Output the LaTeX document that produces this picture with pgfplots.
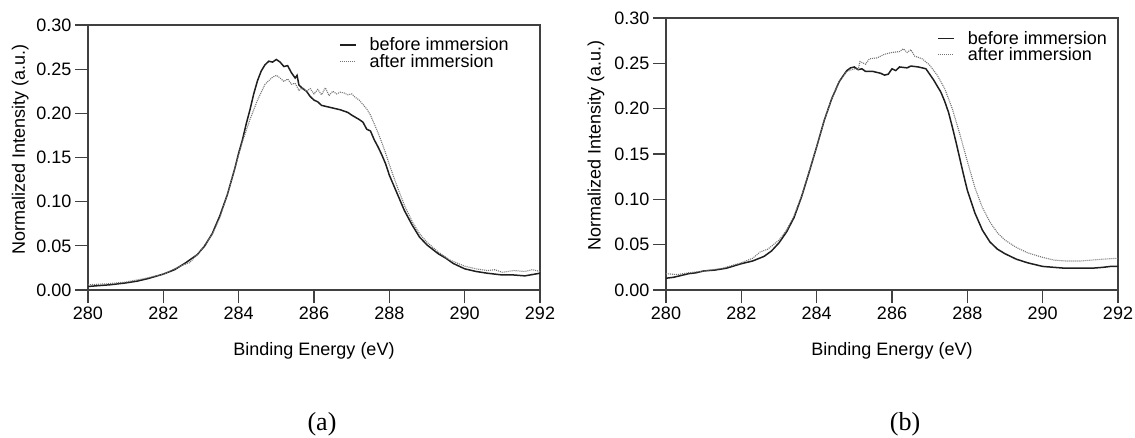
\documentclass[border=0pt]{standalone}
\usepackage{fontspec}
\setmainfont{Liberation Sans}
\newfontfamily\seriffont{Liberation Serif}
\usepackage{pgfplots}
\pgfplotsset{compat=1.18}
\definecolor{axcol}{gray}{0.25}
\pgfplotsset{
  myax/.style={
    scale only axis,
    xmin=280, xmax=292, ymin=0, ymax=0.30,
    xtick={280,282,284,286,288,290,292},
    ytick={0,0.05,0.10,0.15,0.20,0.25,0.30},
    /pgf/number format/assume math mode=true,
    yticklabel style={/pgf/number format/.cd, fixed, fixed zerofill, precision=2},
    xticklabel style={/pgf/number format/.cd, 1000 sep={}},
    scaled y ticks=false,
    tick align=outside,
    major tick length=13pt,
    xtick pos=bottom, ytick pos=left,
    axis line style={line width=1.1pt, color=axcol},
    tick style={line width=1.1pt, color=axcol},
    tick label style={font=\fontsize{18}{21}\selectfont},
    xlabel={Binding Energy (eV)},
    ylabel={Normalized Intensity (a.u.)},
    every axis x label/.style={at={(axis description cs:0.5,0)}, anchor=center, yshift=-61pt, font=\fontsize{18}{21}\selectfont},
    legend style={draw=none, fill=none, font=\fontsize{18}{21}\selectfont, inner sep=0pt, row sep=-2pt, cells={anchor=west}},
    legend image code/.code={\draw[#1] (0pt,0pt) -- (16pt,0pt); \path (27pt,0pt);},
    before/.style={line width=1.5pt, color=black!88},
    after/.style={line width=1.1pt, color=black!55, dash pattern=on 1pt off 1pt},
  }
}
\begin{document}
\begin{tikzpicture}[x=1pt,y=1pt]
\path[use as bounding box] (0,0) rectangle (1135,437);
\begin{axis}[myax, at={(88pt,147pt)}, anchor=south west, width=452pt, height=265pt,
  every axis y label/.style={at={(axis description cs:-0.150,0.532)}, rotate=90, anchor=center, font=\fontsize{18}{21}\selectfont},
  legend style={at={(axis description cs:0.555,0.96)}, anchor=north west}]
\addplot[before] coordinates {
(280.0,0.004) (280.3,0.005) (280.6,0.006) (281.0,0.008) (281.3,0.010) (281.6,0.013)
(282.0,0.018) (282.3,0.023) (282.6,0.031) (282.7,0.034) (282.9,0.040) (283.1,0.050)
(283.3,0.064) (283.5,0.084) (283.7,0.108) (283.9,0.138) (284.0,0.155) (284.1,0.170)
(284.2,0.188) (284.3,0.204) (284.4,0.222) (284.5,0.237) (284.6,0.248) (284.7,0.255)
(284.8,0.259) (284.9,0.258) (285.0,0.261) (285.1,0.258) (285.2,0.253) (285.3,0.254)
(285.4,0.246) (285.5,0.240) (285.55,0.243) (285.6,0.232) (285.7,0.228) (285.8,0.225)
(285.9,0.219) (286.0,0.215) (286.1,0.213) (286.2,0.209) (286.3,0.208) (286.5,0.206)
(286.7,0.204) (286.9,0.201) (287.0,0.198) (287.2,0.193) (287.3,0.190) (287.4,0.182)
(287.5,0.180) (287.6,0.170) (287.7,0.162) (287.8,0.153) (287.9,0.143) (288.0,0.130)
(288.2,0.110) (288.4,0.090) (288.6,0.074) (288.8,0.060) (289.0,0.051) (289.3,0.041)
(289.5,0.036) (289.7,0.030) (290.0,0.024) (290.3,0.021) (290.6,0.019) (291.0,0.017)
(291.3,0.017) (291.6,0.016) (292.0,0.019)
};
\addlegendentry{before immersion}
\addplot[after] coordinates {
(280.0,0.006) (280.5,0.007) (281.0,0.009) (281.5,0.013) (282.0,0.018) (282.5,0.028)
(282.7,0.031) (283.0,0.045) (283.3,0.063) (283.5,0.082) (283.7,0.108) (283.9,0.138)
(284.1,0.168) (284.3,0.193) (284.5,0.215) (284.7,0.233) (284.9,0.241) (285.0,0.243)
(285.1,0.240) (285.2,0.236) (285.3,0.239) (285.4,0.233) (285.5,0.234) (285.6,0.226)
(285.7,0.229) (285.8,0.225) (285.9,0.228) (286.0,0.222) (286.1,0.227) (286.2,0.221)
(286.3,0.229) (286.4,0.220) (286.5,0.225) (286.6,0.222) (286.7,0.224) (286.8,0.223)
(286.9,0.221) (287.0,0.222) (287.1,0.218) (287.2,0.215) (287.3,0.210) (287.4,0.205)
(287.5,0.198) (287.6,0.188) (287.7,0.178) (287.8,0.167) (287.9,0.155) (288.0,0.142)
(288.2,0.118) (288.4,0.096) (288.6,0.078) (288.8,0.064) (289.0,0.054) (289.3,0.043)
(289.6,0.034) (290.0,0.027) (290.3,0.024) (290.6,0.022) (290.8,0.023) (291.0,0.020)
(291.3,0.022) (291.6,0.021) (291.8,0.023) (292.0,0.021)
};
\addlegendentry{after immersion}
\end{axis}
\begin{axis}[myax, at={(666pt,147pt)}, anchor=south west, width=452pt, height=272pt,
  every axis y label/.style={at={(axis description cs:-0.155,0.533)}, rotate=90, anchor=center, font=\fontsize{18}{21}\selectfont},
  legend style={at={(axis description cs:0.60,0.96)}, anchor=north west}]
\addplot[before] coordinates {
(280.0,0.013) (280.2,0.014) (280.4,0.016) (280.6,0.018) (280.8,0.019) (281.0,0.021)
(281.3,0.022) (281.6,0.024) (282.0,0.029) (282.3,0.032) (282.6,0.037) (282.8,0.043)
(283.0,0.052) (283.2,0.064) (283.4,0.080) (283.6,0.103) (283.8,0.130) (284.0,0.158)
(284.2,0.187) (284.4,0.211) (284.6,0.230) (284.8,0.242) (284.9,0.245) (285.0,0.246)
(285.1,0.243) (285.2,0.244) (285.3,0.241) (285.5,0.241) (285.7,0.239) (285.8,0.237)
(285.9,0.238) (286.0,0.244) (286.1,0.242) (286.2,0.246) (286.4,0.245) (286.5,0.247)
(286.7,0.246) (286.9,0.244) (287.0,0.238) (287.1,0.232) (287.3,0.218) (287.4,0.208)
(287.5,0.196) (287.6,0.180) (287.7,0.163) (287.8,0.145) (287.9,0.127) (288.0,0.110)
(288.2,0.085) (288.4,0.066) (288.6,0.053) (288.8,0.045) (289.0,0.040) (289.3,0.034)
(289.6,0.030) (290.0,0.026) (290.3,0.025) (290.6,0.024) (291.0,0.024) (291.3,0.024)
(291.6,0.025) (291.8,0.026) (292.0,0.026)
};
\addlegendentry{before immersion}
\addplot[after] coordinates {
(280.0,0.018) (280.3,0.017) (280.6,0.019) (281.0,0.021) (281.5,0.024) (282.0,0.030)
(282.3,0.035) (282.5,0.042) (282.7,0.045) (283.0,0.055) (283.2,0.066) (283.4,0.082)
(283.6,0.104) (283.8,0.131) (284.0,0.158) (284.2,0.187) (284.4,0.211) (284.6,0.230)
(284.8,0.241) (285.0,0.244) (285.1,0.243) (285.15,0.252) (285.3,0.249) (285.4,0.255)
(285.6,0.256) (285.8,0.260) (286.0,0.262) (286.2,0.263) (286.3,0.266) (286.4,0.262)
(286.5,0.265) (286.6,0.258) (286.8,0.255) (287.0,0.248) (287.2,0.237) (287.4,0.222)
(287.6,0.200) (287.8,0.172) (288.0,0.142) (288.2,0.113) (288.4,0.091) (288.6,0.075)
(288.8,0.063) (289.0,0.055) (289.3,0.047) (289.6,0.041) (290.0,0.036) (290.3,0.033)
(290.6,0.032) (291.0,0.032) (291.3,0.033) (291.6,0.034) (292.0,0.035)
};
\addlegendentry{after immersion}
\end{axis}
\node[font=\seriffont\fontsize{26}{30}\selectfont] at (322,13) {(a)};
\node[font=\seriffont\fontsize{26}{30}\selectfont] at (905,13) {(b)};
\end{tikzpicture}
\end{document}
